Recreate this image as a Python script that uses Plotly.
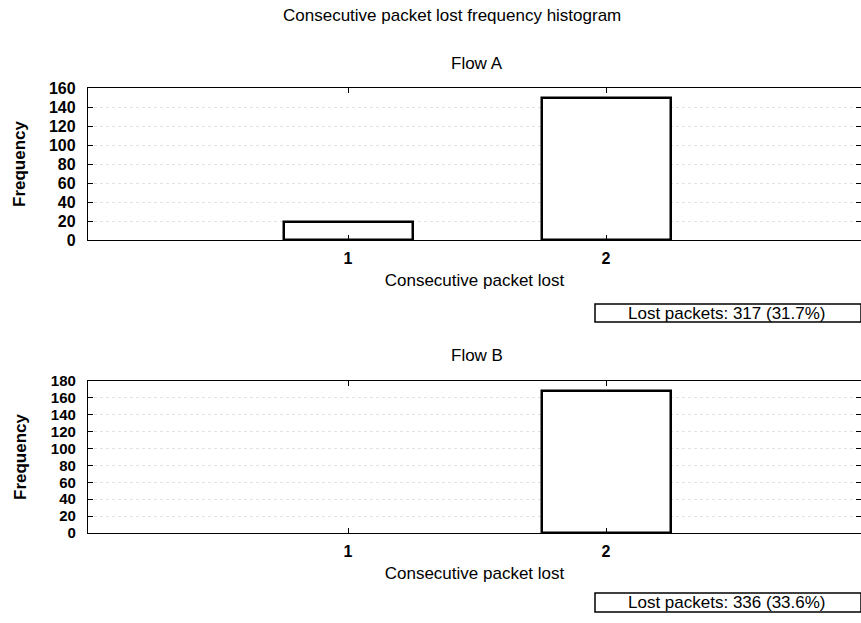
import plotly.graph_objects as go
from plotly.subplots import make_subplots

# ---- data ----
categories = [1, 2]
flow_a_freq = [19, 149]
flow_b_freq = [0, 168]
flow_names = ["Flow A", "Flow B"]
lost_labels = ["Lost packets: 317 (31.7%)", "Lost packets: 336 (33.6%)"]
yticks_a = [0, 20, 40, 60, 80, 100, 120, 140, 160]
yticks_b = [0, 20, 40, 60, 80, 100, 120, 140, 160, 180]

W, H = 861, 623
L, R = 88, 0
FONT = "Liberation Sans, Arial, Helvetica, sans-serif"
FS = 17

def py(p):  # pixel y -> paper (top/bottom margins are zero)
    return 1 - p / H

def px(p):  # pixel x -> paper (relative to plot area)
    return (p - L) / (W - L - R)

fig = make_subplots(rows=2, cols=1)

for i, vals in enumerate([flow_a_freq, flow_b_freq]):
    fig.add_trace(go.Bar(
        x=categories, y=vals, width=0.5,
        marker=dict(color="white",
                    line=dict(color="black", width=[2.5 if v > 0 else 0 for v in vals])),
        showlegend=False,
    ), row=i + 1, col=1)

x0 = (L - 348) / 258 + 1
x1 = (W - R - 348) / 258 + 1

axis_common = dict(
    showline=True, linecolor="black", linewidth=1.3, mirror="ticks",
    ticks="inside", ticklen=5, tickcolor="black", tickwidth=1.3, zeroline=False,
    automargin=False,
)

doms = [(py(240), py(88)), (py(533), py(381))]
ytick_sizes = [16, 15]
for i, (ticks, top) in enumerate([(yticks_a, 160), (yticks_b, 180)]):
    r = i + 1
    fig.update_xaxes(range=[x0, x1], tickvals=categories, ticktext=[str(c) for c in categories],
                     showgrid=False,
                     tickfont=dict(family=FONT, size=16, color="black", weight="bold"),
                     title=dict(text="Consecutive packet lost", standoff=7,
                                font=dict(family=FONT, size=FS, color="black")),
                     ticklabelstandoff=4,
                     **axis_common, row=r, col=1)
    fig.update_yaxes(range=[0, top], tickvals=ticks, domain=list(doms[i]),
                     showgrid=True, gridcolor="#e2e2e2", griddash="dot", gridwidth=1,
                     tickfont=dict(family=FONT, size=ytick_sizes[i], color="black", weight="bold"),
                     title=dict(text="<b>Frequency</b>", standoff=18 + (16 - ytick_sizes[i]) * 1.6,
                                font=dict(family=FONT, size=FS, color="black")),
                     ticklabelstandoff=8,
                     **axis_common, row=r, col=1)

annotations = [
    dict(text="Consecutive packet lost frequency histogram", x=px(452), y=py(15),
         xref="paper", yref="paper", showarrow=False, xanchor="center", yanchor="middle",
         font=dict(family=FONT, size=FS, color="black")),
]
title_y = [63, 355]
legend_y = [(304, 322), (593, 612)]
shapes = []
for i in range(2):
    annotations.append(dict(text=flow_names[i], x=px(477), y=py(title_y[i]), xref="paper", yref="paper",
                            showarrow=False, xanchor="center", yanchor="middle",
                            font=dict(family=FONT, size=FS, color="black")))
    ya, yb = legend_y[i]
    shapes.append(dict(type="rect", xref="paper", yref="paper", x0=px(595), x1=px(861),
                       y0=py(yb), y1=py(ya), line=dict(color="black", width=1.5),
                       fillcolor="rgba(0,0,0,0)"))
    annotations.append(dict(text=lost_labels[i], x=px(727), y=py((ya + yb) / 2), xref="paper", yref="paper",
                            showarrow=False, xanchor="center", yanchor="middle",
                            font=dict(family=FONT, size=FS, color="black")))

fig.update_layout(
    width=W, height=H,
    margin=dict(l=L, r=R, t=0, b=0, autoexpand=False),
    plot_bgcolor="white", paper_bgcolor="white",
    font=dict(family=FONT, size=FS, color="black"),
    annotations=annotations, shapes=shapes,
    bargap=0,
)

fig.write_html("out.html")
